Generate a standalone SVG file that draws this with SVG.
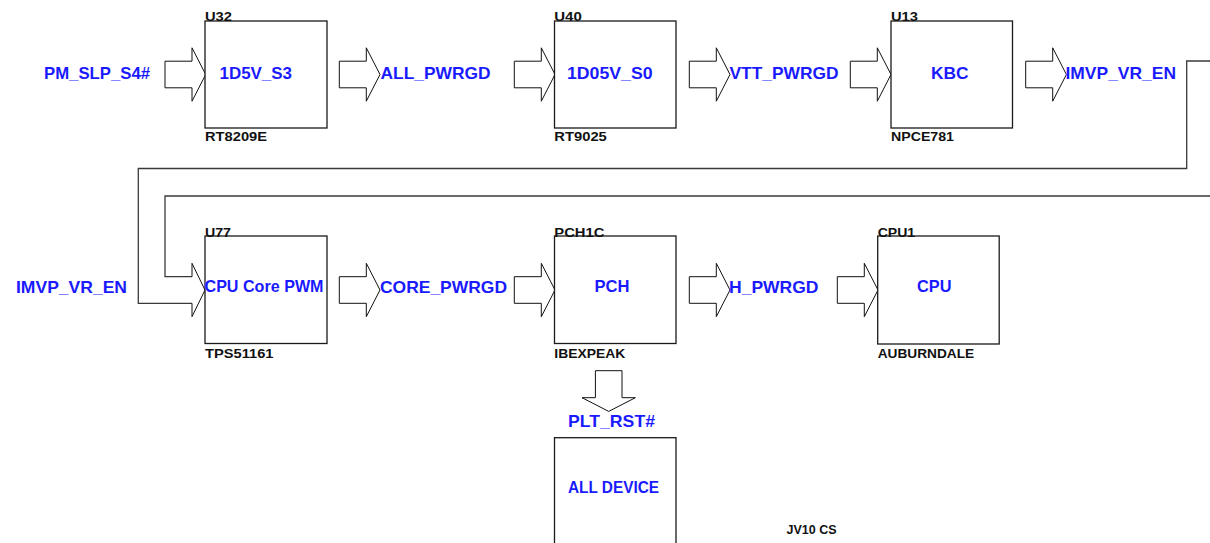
<svg xmlns="http://www.w3.org/2000/svg" width="1210" height="543" viewBox="0 0 1210 543">
<style>
.box{fill:#fff;stroke:#1a1a1a;stroke-width:1.3}
.arr{fill:#fff;stroke:#111;stroke-width:1}
.wire{fill:none;stroke:#3a3a3a;stroke-width:1.3}
.sig{font-family:"Liberation Sans",Arial,sans-serif;font-weight:bold;font-size:16.5px;fill:#1a1aff}
.ref{font-family:"Liberation Sans",Arial,sans-serif;font-weight:bold;font-size:13px;fill:#111}
</style>
<defs>
<path id="harrow" d="M0,-13.3 H27 V-26.7 L40.7,0 L27,26.7 V13.3 H0 Z"/>
</defs>
<rect width="1210" height="543" fill="#fff"/>

<g id="connectors">
<path class="wire" d="M1210,61 H1186.7 V168.5 H138.3 V303.3 H192"/>
<path class="wire" d="M1210,196 H165 V276.7 H192"/>
<path class="arr" d="M192,276.7 V263.3 L205,290 L192,316.7 V303.3"/>
<use href="#harrow" class="arr" transform="translate(165,74.5)"/>
<use href="#harrow" class="arr" transform="translate(339.3,74.5)"/>
<use href="#harrow" class="arr" transform="translate(514.3,74.5)"/>
<use href="#harrow" class="arr" transform="translate(689.3,74.5)"/>
<use href="#harrow" class="arr" transform="translate(850.3,74.5)"/>
<use href="#harrow" class="arr" transform="translate(1025.7,74.5)"/>
<use href="#harrow" class="arr" transform="translate(339.3,290)"/>
<use href="#harrow" class="arr" transform="translate(514.3,290)"/>
<use href="#harrow" class="arr" transform="translate(689.3,290)"/>
<use href="#harrow" class="arr" transform="translate(837.3,290)"/>
<use href="#harrow" class="arr" transform="translate(608.7,370.7) rotate(90)"/>
</g>

<g id="signals">
<text class="sig" x="44" y="79" textLength="106" lengthAdjust="spacingAndGlyphs">PM_SLP_S4#</text>
<text class="sig" x="380.5" y="79" textLength="110" lengthAdjust="spacingAndGlyphs">ALL_PWRGD</text>
<text class="sig" x="729.5" y="79" textLength="109" lengthAdjust="spacingAndGlyphs">VTT_PWRGD</text>
<text class="sig" x="1065.5" y="79" textLength="110.5" lengthAdjust="spacingAndGlyphs">IMVP_VR_EN</text>
<text class="sig" x="16" y="293" textLength="111" lengthAdjust="spacingAndGlyphs">IMVP_VR_EN</text>
<text class="sig" x="380" y="293" textLength="127" lengthAdjust="spacingAndGlyphs">CORE_PWRGD</text>
<text class="sig" x="729" y="293" textLength="89.5" lengthAdjust="spacingAndGlyphs">H_PWRGD</text>
<text class="sig" x="568" y="427" textLength="87" lengthAdjust="spacingAndGlyphs">PLT_RST#</text>
</g>

<g id="u32">
<rect class="box" x="205" y="21" width="122" height="107"/>
<text class="sig" x="219.5" y="79" textLength="72.5" lengthAdjust="spacingAndGlyphs">1D5V_S3</text>
<text class="ref" x="205" y="21" textLength="27" lengthAdjust="spacingAndGlyphs">U32</text>
<text class="ref" x="205" y="141" textLength="62" lengthAdjust="spacingAndGlyphs">RT8209E</text>
</g>

<g id="u40">
<rect class="box" x="554.5" y="21" width="121.5" height="107"/>
<text class="sig" x="567" y="79" textLength="85.5" lengthAdjust="spacingAndGlyphs">1D05V_S0</text>
<text class="ref" x="554.3" y="21" textLength="27.5" lengthAdjust="spacingAndGlyphs">U40</text>
<text class="ref" x="554.3" y="141" textLength="52.5" lengthAdjust="spacingAndGlyphs">RT9025</text>
</g>

<g id="u13">
<rect class="box" x="891" y="21" width="121.5" height="107"/>
<text class="sig" x="931" y="79" textLength="37.5" lengthAdjust="spacingAndGlyphs">KBC</text>
<text class="ref" x="891" y="21" textLength="27" lengthAdjust="spacingAndGlyphs">U13</text>
<text class="ref" x="891" y="141" textLength="63" lengthAdjust="spacingAndGlyphs">NPCE781</text>
</g>

<g id="u77">
<rect class="box" x="205" y="236" width="122" height="107.5"/>
<text class="sig" x="204.5" y="291.5" textLength="119" lengthAdjust="spacingAndGlyphs">CPU Core PWM</text>
<text class="ref" x="205" y="236.5" textLength="26" lengthAdjust="spacingAndGlyphs">U77</text>
<text class="ref" x="205" y="357.5" textLength="68.5" lengthAdjust="spacingAndGlyphs">TPS51161</text>
</g>

<g id="pch">
<rect class="box" x="554.5" y="236" width="121.5" height="107.5"/>
<text class="sig" x="594.5" y="291.5" textLength="35" lengthAdjust="spacingAndGlyphs">PCH</text>
<text class="ref" x="554.3" y="236.5" textLength="50" lengthAdjust="spacingAndGlyphs">PCH1C</text>
<text class="ref" x="554.3" y="357.5" textLength="71" lengthAdjust="spacingAndGlyphs">IBEXPEAK</text>
</g>

<g id="cpu">
<rect class="box" x="877.7" y="236" width="121.5" height="108"/>
<text class="sig" x="917" y="291.5" textLength="34.5" lengthAdjust="spacingAndGlyphs">CPU</text>
<text class="ref" x="877.7" y="236.5" textLength="37.5" lengthAdjust="spacingAndGlyphs">CPU1</text>
<text class="ref" x="877.7" y="357.5" textLength="96.5" lengthAdjust="spacingAndGlyphs">AUBURNDALE</text>
</g>

<g id="alldevice">
<rect class="box" x="554.5" y="437.7" width="121.5" height="120"/>
<text class="sig" x="568" y="492.5" textLength="91" lengthAdjust="spacingAndGlyphs">ALL DEVICE</text>
</g>

<g id="footer">
<text class="ref" x="786.5" y="534" font-size="11" textLength="50" lengthAdjust="spacingAndGlyphs">JV10 CS</text>
</g>
</svg>
